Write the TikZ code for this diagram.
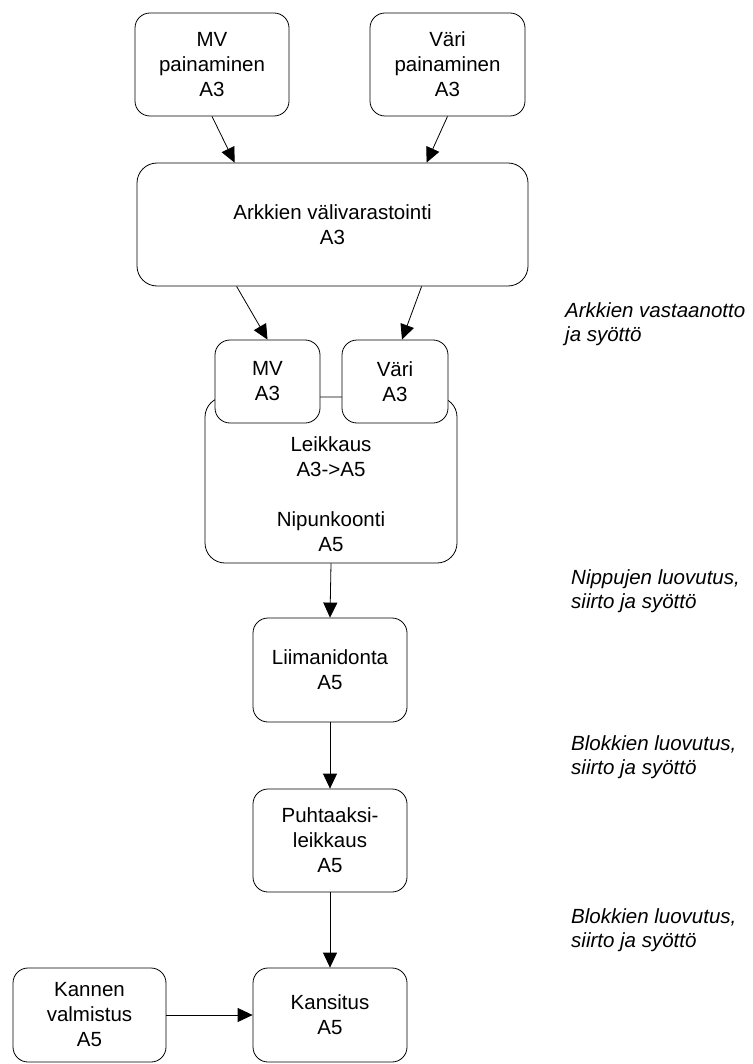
\documentclass[tikz,border=0pt]{standalone}
\usepackage{fontspec}
\setmainfont{Liberation Sans}
\usetikzlibrary{arrows.meta,calc}
\begin{document}
\begin{tikzpicture}[x=1pt,y=-1pt,
  box/.style={draw=black,line width=0.8pt,rounded corners=15pt,fill=white,
    align=center,inner sep=0pt,font=\fontsize{20.5}{25}\selectfont},
  plain/.style={align=center,inner sep=0pt,font=\fontsize{20.5}{25}\selectfont},
  arr/.style={-{Triangle[length=15pt,width=14pt]},line width=0.8pt},
  note/.style={anchor=west,align=left,inner sep=0pt,
    font=\fontsize{20.5}{24}\selectfont\itshape}]
\useasboundingbox (0,0) rectangle (752,1064);

% printing stages
\node[box,minimum width=154pt,minimum height=103pt] (mvp) at (212,64.5) {MV\\painaminen\\A3};
\node[box,minimum width=155pt,minimum height=103pt] (varip) at (447.5,64.5) {Väri\\painaminen\\A3};
\node[box,rounded corners=20pt,minimum width=391pt,minimum height=123pt] (arkki) at (332.5,224.5) {Arkkien välivarastointi\\A3};

% cutting unit with its two feeders
\node[box,rounded corners=20pt,minimum width=252pt,minimum height=166pt] (leik) at (331,480) {};
\node[plain] (leiktext) at (331,494) {Leikkaus\\A3->A5\\[25pt]Nipunkoonti\\A5};
\node[box,minimum width=105pt,minimum height=83pt] (mv) at (267.5,381.5) {MV\\A3};
\node[box,minimum width=106pt,minimum height=83pt] (vari) at (395,381.5) {Väri\\A3};

% binding line
\node[box,minimum width=154pt,minimum height=104pt] (liima) at (330,670) {Liimanidonta\\A5};
\node[box,minimum width=154pt,minimum height=103pt] (puht) at (330,840.5) {Puhtaaksi-\\leikkaus\\A5};
\node[box,minimum width=154pt,minimum height=94pt] (kansi) at (330,1015) {Kansitus\\A5};
\node[box,minimum width=153pt,minimum height=94pt] (kansv) at (89.5,1015) {Kannen\\valmistus\\A5};

% flow
\draw[arr] (mvp.south) -- ($(arkki.north west)+(98,0)$);
\draw[arr] (varip.south) -- ($(arkki.north west)+(290,0)$);
\draw[arr] ($(arkki.south west)+(100,0)$) -- (mv.north);
\draw[arr] ($(arkki.south west)+(285,0)$) -- ($(vari.north)+(7,0)$);
\draw[arr] (leik.south) -- (liima.north);
\draw[arr] (liima.south) -- (puht.north);
\draw[arr] (puht.south) -- (kansi.north);
\draw[arr] (kansv.east) -- (kansi.west);

% transfer notes
\node[note] (n1) at (565,324.5) {Arkkien vastaanotto\\ja syöttö};
\node[note] (n2) at (571,591) {Nippujen luovutus,\\siirto ja syöttö};
\node[note] (n3) at (571,757.5) {Blokkien luovutus,\\siirto ja syöttö};
\node[note] (n4) at (571,930) {Blokkien luovutus,\\siirto ja syöttö};
\end{tikzpicture}
\end{document}
